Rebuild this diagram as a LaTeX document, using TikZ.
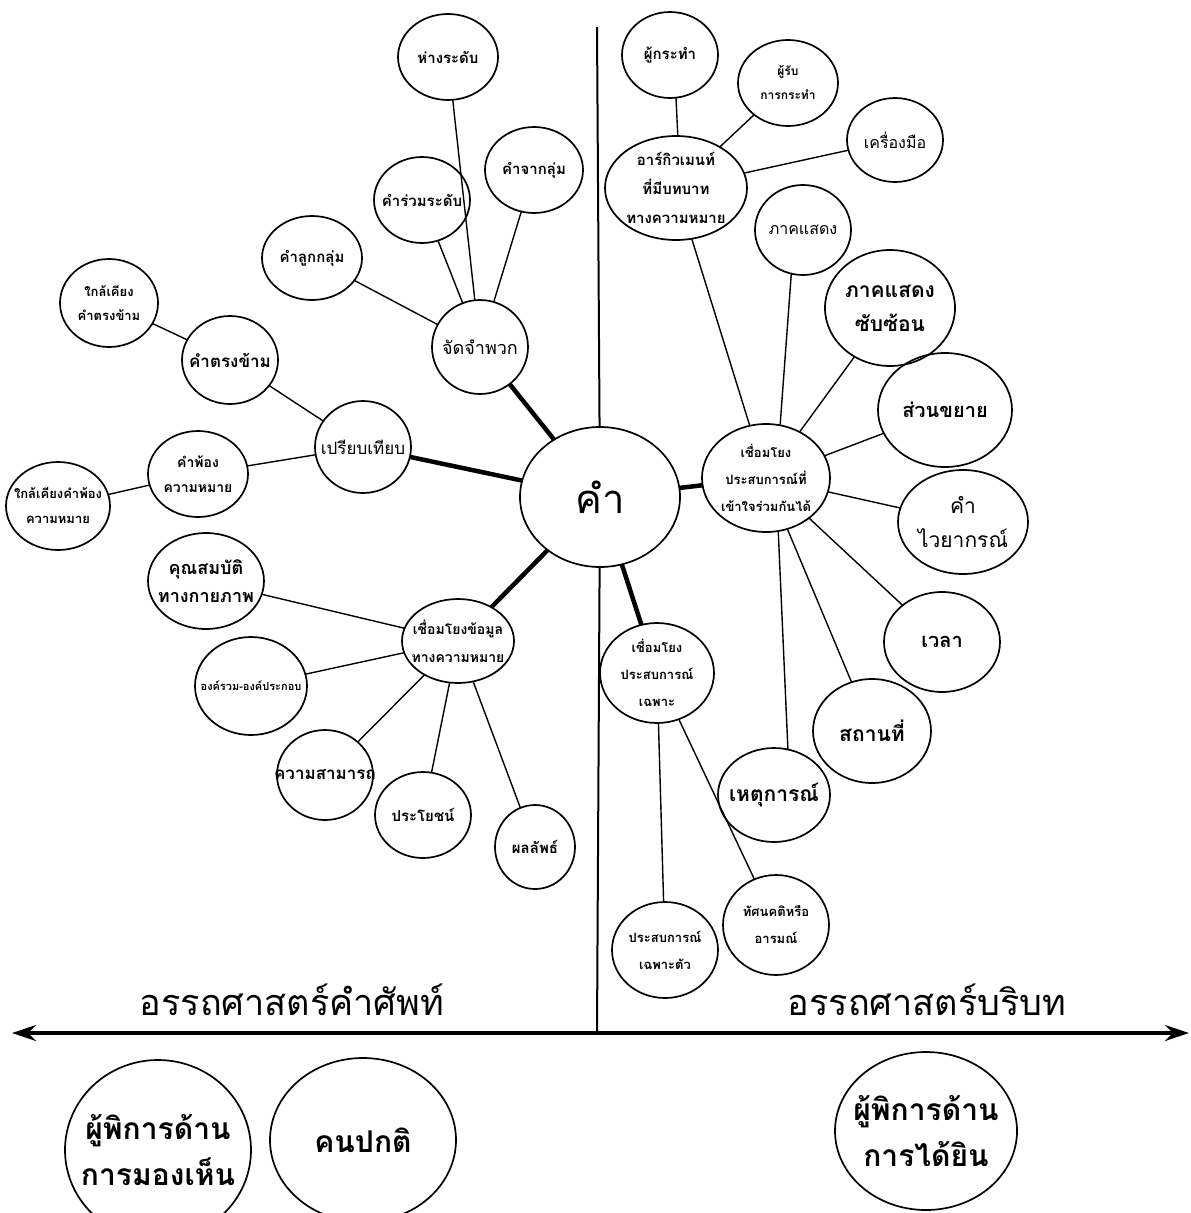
\documentclass[tikz,border=0pt]{standalone}
\usepackage{fontspec}
\newfontfamily\thaifont[Script=Thai]{Loma}
\usetikzlibrary{shapes.geometric,arrows.meta}
\tikzset{
  bub/.style 2 args={ellipse, draw, line width=1.7pt, minimum width={2*#1}, minimum height={2*#2}, inner sep=0pt, outer sep=0pt},
  lab/.style={align=center, inner sep=0pt, font=\thaifont\bfseries\fontsize{15}{26}\selectfont},
  fsz/.style 2 args={font=\thaifont\bfseries\fontsize{#1}{#2}\selectfont},
  rsz/.style 2 args={font=\thaifont\fontsize{#1}{#2}\selectfont},
  leaf/.style={line width=1.4pt},
  hubline/.style={line width=4.5pt},
}
\newcommand\bubnode[7][]{\node[bub={#5}{#6}, label={[lab,#1]center:{#7}}] (#2) at (#3,#4) {};}
\begin{document}
\begin{tikzpicture}[x=1pt,y=-1pt]
\useasboundingbox[fill=white] (0,0) rectangle (1191,1213);
% centre
\node[bub={80}{70}, label={[lab,rsz={40}{44}]center:{คำ}}] (kham) at (600,497) {};
% left upper
\bubnode{hang}{448}{57}{50}{43}{ห่างระดับ}
\bubnode{chak}{534}{170}{49}{43}{คำจากลุ่ม}
\bubnode{ruam}{422}{200}{48}{43}{คำร่วมระดับ}
\bubnode{luk}{312}{258}{50}{42}{คำลูกกลุ่ม}
\bubnode[rsz={18}{26}]{jat}{480}{347}{48}{47}{จัดจำพวก}
\bubnode[fsz={13}{24}]{klaitr}{109}{303}{49}{44}{ใกล้เคียง\\คำตรงข้าม}
\bubnode[fsz={17}{26}]{trong}{230}{360}{48}{44}{คำตรงข้าม}
\bubnode[rsz={17}{26}]{priap}{363}{447}{48}{46}{เปรียบเทียบ}
\bubnode[fsz={14}{25}]{phong}{198}{474}{50}{43}{คำพ้อง\\ความหมาย}
\bubnode[fsz={13}{25}]{klaiph}{58}{506}{52}{44}{ใกล้เคียงคำพ้อง\\ความหมาย}
% left lower
\bubnode[fsz={18}{28}]{khun}{206}{581}{58}{48}{คุณสมบัติ\\ทางกายภาพ}
\bubnode[fsz={11}{20}]{ong}{251}{686}{56}{49}{องค์รวม-องค์ประกอบ}
\bubnode[fsz={17}{26}]{samart}{325}{775}{48}{45}{ความสามารถ}
\bubnode{prayot}{423}{815}{48}{43}{ประโยชน์}
\bubnode{phon}{535}{847}{40}{42}{ผลลัพธ์}
\bubnode[fsz={14}{28}]{khomun}{458}{641}{56}{42}{เชื่อมโยงข้อมูล\\ทางความหมาย}
% right upper
\bubnode{agent}{670}{55}{48}{43}{ผู้กระทำ}
\bubnode[fsz={12}{24}]{patient}{788}{83}{50}{43}{ผู้รับ\\การกระทำ}
\bubnode[rsz={16}{26}]{instr}{895}{140}{48}{42}{เครื่องมือ}
\bubnode[fsz={15}{29}]{arg}{676}{188}{71}{52}{อาร์กิวเมนท์\\ที่มีบทบาท\\ทางความหมาย}
\bubnode[rsz={16}{26}]{pred}{803}{230}{48}{45}{ภาคแสดง}
\bubnode[fsz={21}{34}]{cpred}{890}{308}{65}{58}{ภาคแสดง\\ซับซ้อน}
\bubnode[fsz={20}{30}]{khayai}{945}{410}{67}{57}{ส่วนขยาย}
\bubnode[rsz={21}{34}]{gram}{963}{522}{65}{52}{คำ\\ไวยากรณ์}
\bubnode[fsz={13}{27}]{shared}{766}{478}{64}{54}{เชื่อมโยง\\ประสบการณ์ที่\\เข้าใจร่วมกันได้}
\bubnode[fsz={20}{30}]{wela}{942}{642}{58}{50}{เวลา}
\bubnode[fsz={21}{30}]{sathan}{872}{731}{59}{52}{สถานที่}
\bubnode[fsz={21}{30}]{het}{774}{795}{56}{47}{เหตุการณ์}
\bubnode[fsz={13}{27}]{spec}{657}{673}{57}{50}{เชื่อมโยง\\ประสบการณ์\\เฉพาะ}
\bubnode[fsz={13}{27}]{pers}{665}{950}{53}{48}{ประสบการณ์\\เฉพาะตัว}
\bubnode[fsz={13}{27}]{att}{776}{925}{53}{50}{ทัศนคติหรือ\\อารมณ์}
% bottom
\bubnode[fsz={30}{46}]{blind}{158}{1150}{93}{90}{ผู้พิการด้าน\\การมองเห็น}
\bubnode[fsz={30}{46}]{normal}{363}{1140}{93}{82}{คนปกติ}
\bubnode[fsz={30}{46}]{deaf}{926}{1131}{91}{79}{ผู้พิการด้าน\\การได้ยิน}
% axis labels
\node[inner sep=0pt, rsz={36}{40}] (lexsem) at (292,1000) {อรรถศาสตร์คำศัพท์};
\node[inner sep=0pt, rsz={36}{40}] (ctxsem) at (927,1000) {อรรถศาสตร์บริบท};
% axes
\coordinate (vtop) at (597,27);
\coordinate (vbot) at (597,1033);
\coordinate (arL) at (12,1033);
\coordinate (arR) at (1189,1033);
\draw[line width=2pt] (vtop) -- (kham);
\draw[line width=2pt] (kham) -- (vbot);
\draw[line width=3.5pt, {Stealth[length=24pt,width=16pt]}-{Stealth[length=24pt,width=16pt]}] (arL) -- (arR);
% hub connectors
\foreach \n in {jat,priap,khomun,shared,spec} \draw[hubline] (kham) -- (\n);
% leaf connectors
\foreach \a/\b in {jat/hang,jat/chak,jat/ruam,jat/luk,priap/trong,priap/phong,trong/klaitr,phong/klaiph,
  khomun/khun,khomun/ong,khomun/samart,khomun/prayot,khomun/phon,
  arg/patient,arg/instr,
  shared/arg,shared/cpred,shared/khayai,shared/gram,shared/wela,shared/sathan,
  spec/pers,spec/att}
  \draw[leaf] (\a) -- (\b);
\draw[leaf] (arg.88) -- (agent.278);
\draw[leaf] (shared.75) -- (pred.255);
\draw[leaf] (shared.283) -- (het.73);
\end{tikzpicture}
\end{document}
